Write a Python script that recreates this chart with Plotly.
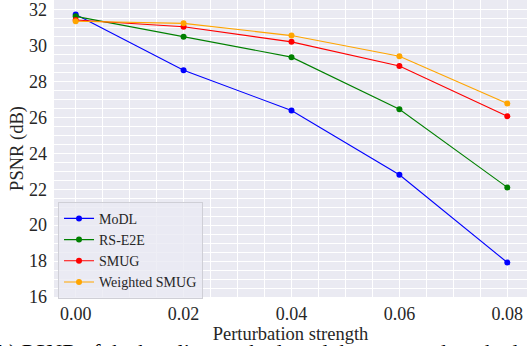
import plotly.graph_objects as go

strength = [0.00, 0.02, 0.04, 0.06, 0.08]
modl = [31.72, 28.62, 26.38, 22.80, 17.92]
rs_e2e = [31.62, 30.48, 29.35, 26.45, 22.10]
smug = [31.42, 31.04, 30.20, 28.86, 26.06]
weighted_smug = [31.35, 31.23, 30.55, 29.40, 26.77]

series = [
    ("MoDL", modl, "#0000ff"),
    ("RS-E2E", rs_e2e, "#008000"),
    ("SMUG", smug, "#ff0000"),
    ("Weighted SMUG", weighted_smug, "#ffa500"),
]

font_family = "Liberation Serif, Times New Roman, serif"
text_color = "#262626"

fig = go.Figure()
for name, vals, color in series:
    fig.add_trace(go.Scatter(
        x=strength, y=vals, name=name, mode="lines+markers",
        line=dict(color=color, width=1.1),
        marker=dict(color=color, size=6),
    ))

fig.update_layout(
    width=527, height=346,
    margin=dict(l=54, r=0, t=0, b=49, autoexpand=False),
    paper_bgcolor="white",
    plot_bgcolor="#eaeaf2",
    font=dict(family=font_family, size=18, color=text_color),
    showlegend=True,
    legend=dict(
        x=0.0085, y=-0.006, xanchor="left", yanchor="bottom",
        bgcolor="rgba(234,234,242,0.8)", bordercolor="#cfcfd6", borderwidth=1,
        font=dict(family=font_family, size=14, color=text_color),
        itemwidth=30, tracegroupgap=0,
    ),
    annotations=[dict(
        text="b) PSNR of the baseline methods and the proposed methods",
        xref="paper", yref="paper", x=-0.122, y=-0.135, xanchor="left", yanchor="top",
        showarrow=False, font=dict(family=font_family, size=22, color="black"),
    )],
)

fig.update_xaxes(
    range=[-0.00402, 0.08365], tickmode="array", automargin=False,
    tickvals=strength, ticktext=["0.00", "0.02", "0.04", "0.06", "0.08"],
    tickfont=dict(family=font_family, size=18, color=text_color),
    ticklabeloverflow="allow",
    showgrid=True, gridcolor="white", gridwidth=1.3,
    minor=dict(dtick=0.005, tick0=0, showgrid=True, gridcolor="white", gridwidth=0.9),
    zeroline=False, showline=False, ticks="", ticklabelstandoff=4,
    title=dict(text="Perturbation strength", standoff=0,
               font=dict(family=font_family, size=18.5, color=text_color)),
)
fig.update_yaxes(
    range=[16, 32.53], tickmode="linear", tick0=16, dtick=2, automargin=False,
    tickfont=dict(family=font_family, size=18, color=text_color),
    ticklabeloverflow="allow",
    showgrid=True, gridcolor="white", gridwidth=1.3,
    minor=dict(dtick=0.5, tick0=16, showgrid=True, gridcolor="white", gridwidth=0.9),
    zeroline=False, showline=False, ticks="", ticklabelstandoff=6,
    title=dict(text="PSNR (dB)", standoff=0,
               font=dict(family=font_family, size=18.5, color=text_color)),
)

fig.write_html(
    "out.html",
    config={"displayModeBar": False},
    post_script="document.body.style.margin='0';document.body.style.overflow='hidden';",
)
